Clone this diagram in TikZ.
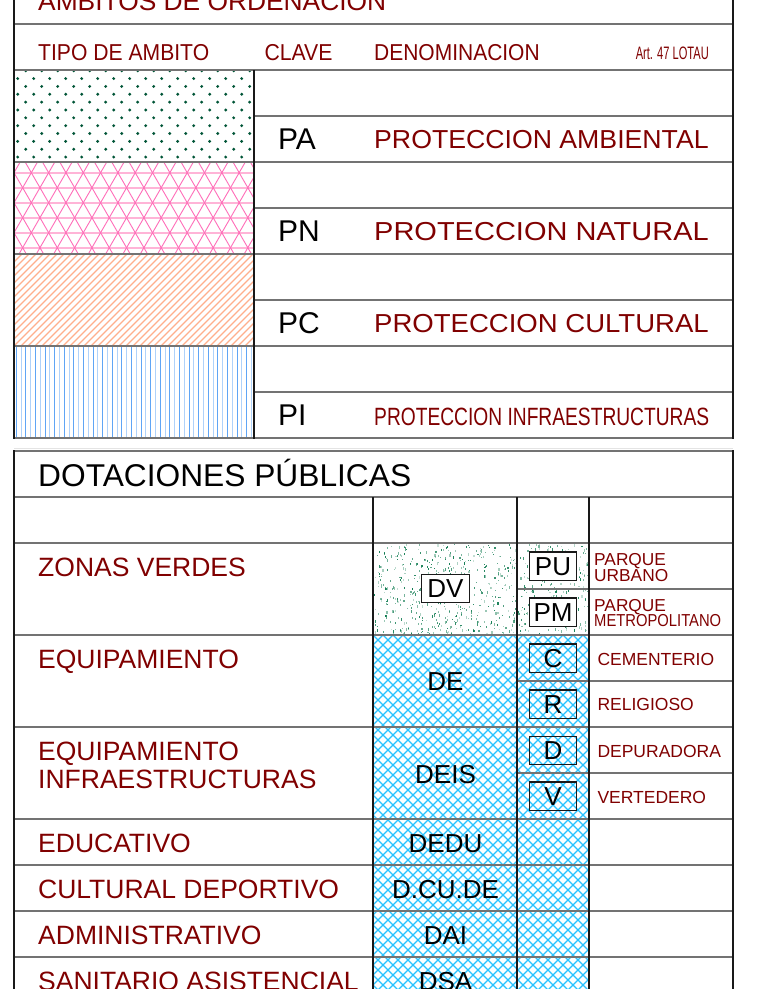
\documentclass[tikz,border=0pt]{standalone}
\usepackage{fontspec}
\usepackage{graphicx}
\setmainfont{Liberation Sans}
\newcommand\fsz[1]{\fontsize{#1pt}{#1pt}\selectfont}
\newcommand\fitw[3]{\resizebox{#1pt}{\height}{\fsz{#2}#3}}
\definecolor{dred}{RGB}{128,0,0}
\definecolor{hlinec}{RGB}{115,115,115}
\definecolor{vlinec}{RGB}{25,25,25}
\definecolor{dotgreen}{RGB}{0,85,55}
\definecolor{pinkd}{RGB}{255,110,185}
\definecolor{pinkl}{RGB}{255,180,215}
\definecolor{salmonc}{RGB}{255,175,140}
\definecolor{blued}{RGB}{95,165,245}
\definecolor{bluel}{RGB}{175,210,250}
\definecolor{cyanh}{RGB}{40,195,255}
\definecolor{speck}{RGB}{0,115,70}
\tikzset{
  hl/.style={draw=hlinec, line width=1.6pt},
  vl/.style={draw=vlinec, line width=1.4pt},
  lbl/.style={anchor=base west, inner sep=0pt, text=dred},
  blk/.style={anchor=base west, inner sep=0pt, text=black},
  code/.style={anchor=base, inner sep=0pt, text=black},
  codebox/.style={draw=vlinec, line width=1.2pt, minimum width=47.4pt, minimum height=28.7pt, inner sep=0pt, text=black},
}
\begin{document}
\begin{tikzpicture}[x=1pt,y=-1pt]
\useasboundingbox (0,0) rectangle (764,989);
\begin{scope}
\clip (0,0) rectangle (764,989);
\fill[white] (0,0) rectangle (764,989);

% ---------- PA dots
\begin{scope}
\clip (14,70) rectangle (254,162);
\foreach \j in {0,...,11} {
  \pgfmathsetmacro\yy{70.7+7.85*\j}
  \pgfmathsetmacro\xo{mod(\j,2)==0 ? 9.7 : 17.7}
  \foreach \k in {0,...,15} { \fill[dotgreen] (\xo+16*\k,\yy) circle (1.6pt); }
}
\end{scope}

% ---------- PN triangular lattice
\begin{scope}
\clip (14,162) rectangle (254,254);
\foreach \k in {-1,...,7} { \draw[pinkl, line width=1.8pt] (14,172.7+15*\k) -- (254,172.7+15*\k); }
\foreach \m in {-6,...,20} {
  \draw[pinkd, line width=0.9pt] (14+17.32*\m,142.7) -- ++(77.94,135);
  \draw[pinkd, line width=0.9pt] (14+17.32*\m,142.7) -- ++(-77.94,135);
}
\end{scope}

% ---------- PC diagonal hatch
\begin{scope}
\clip (14,254) rectangle (254,346);
\foreach \m in {-15,...,36} { \draw[salmonc, line width=1.1pt] (14+7*\m,346) -- ++(100,-100); }
\end{scope}

% ---------- PI vertical lines
\begin{scope}
\clip (14,346) rectangle (254,438);
\foreach \m in {0,...,49} {
  \ifodd\m \draw[bluel, line width=1.1pt] (16.3+4.8*\m,346) -- (16.3+4.8*\m,438);
  \else \draw[blued, line width=0.9pt] (16.3+4.8*\m,346) -- (16.3+4.8*\m,438); \fi
}
\end{scope}

% ---------- DV speckles
\begin{scope}
\clip (373,543) rectangle (589,635);
\pgfmathsetseed{12345}
\foreach \i in {1,...,800} {
  \pgfmathsetmacro\px{373+216*rnd}
  \pgfmathsetmacro\py{543+92*rnd}
  \pgfmathsetmacro\ll{0.8+2.2*rnd}
  \pgfmathsetmacro\op{0.2+0.7*rnd}
  \fill[speck, opacity=\op] (\px,\py) rectangle ++(1.1,\ll);
}
\end{scope}

% ---------- cyan cross hatch
\begin{scope}
\clip (373,635) rectangle (589,995);
\foreach \m in {-37,...,22} { \draw[cyanh, line width=1.1pt] (373+10*\m,635) -- ++(360,360); }
\foreach \m in {0,...,58} { \draw[cyanh, line width=1.1pt] (373+10*\m,635) -- ++(-360,360); }
\end{scope}

% ---------- top table lines
\foreach \y in {24,70,162,254,346,438} { \draw[hl] (14,\y) -- (733,\y); }
\foreach \y in {116,208,300,392} { \draw[hl] (254,\y) -- (733,\y); }
\draw[vl] (14,-2) -- (14,438.8);
\draw[vl] (733,-2) -- (733,438.8);
\draw[vl] (254,70) -- (254,438.8);
\draw[draw={rgb,255:red,228;green,228;blue,228}, line width=1.2pt] (14,448.6) -- (733,448.6);

% ---------- bottom table lines
\foreach \y in {451,497,543,635,727,819,865,911,957} { \draw[hl] (14,\y) -- (733,\y); }
\foreach \y in {589,681,773} { \draw[hl] (517,\y) -- (733,\y); }
\draw[vl] (14,450.2) -- (14,995);
\draw[vl] (733,450.2) -- (733,995);
\foreach \x in {373,517,589} { \draw[vl] (\x,497) -- (\x,995); }

% ---------- top table texts
\node[lbl] (ttitle) at (38,10.5) {\fitw{348}{26}{AMBITOS DE ORDENACION}};
\node[lbl] (htipo) at (38,60.7) {\fitw{171}{23}{TIPO DE AMBITO}};
\node[lbl] (hclave) at (264.3,60.7) {\fitw{68}{23}{CLAVE}};
\node[lbl] (hden) at (374,60.7) {\fitw{165.5}{23}{DENOMINACION}};
\node[lbl, anchor=base east] (hart) at (709,59.3) {\fitw{73}{18}{Art. 47 LOTAU}};

\node[blk] (kpa) at (278,149.9) {\fsz{30}PA};
\node[blk] (kpn) at (278,241.9) {\fsz{30}PN};
\node[blk] (kpc) at (278,333.9) {\fsz{30}PC};
\node[blk] (kpi) at (278,425.9) {\fsz{30}PI};
\node[lbl] (dpa) at (374,148.7) {\fitw{334.5}{26}{PROTECCION AMBIENTAL}};
\node[lbl] (dpn) at (374,240.7) {\fitw{334.5}{26}{PROTECCION NATURAL}};
\node[lbl] (dpc) at (374,332.9) {\fitw{334.5}{26}{PROTECCION CULTURAL}};
\node[lbl] (dpi) at (374,425.2) {\fitw{335}{25}{PROTECCION INFRAESTRUCTURAS}};

% ---------- bottom table texts
\node[blk] (btitle) at (38,486) {\fitw{373}{31.5}{DOTACIONES PÚBLICAS}};
\node[lbl] (zv) at (38,576) {\fsz{26.5}ZONAS VERDES};
\node[lbl] (eq) at (38,668) {\fsz{26.5}EQUIPAMIENTO};
\node[lbl] (eqi1) at (38,760) {\fsz{26.5}EQUIPAMIENTO};
\node[lbl] (eqi2) at (38,788) {\fsz{26.5}INFRAESTRUCTURAS};
\node[lbl] (edu) at (38,852) {\fsz{26.5}EDUCATIVO};
\node[lbl] (cul) at (38,898) {\fsz{26.5}CULTURAL DEPORTIVO};
\node[lbl] (adm) at (38,944) {\fsz{26.5}ADMINISTRATIVO};
\node[lbl] (san) at (38,990) {\fsz{26.5}SANITARIO ASISTENCIAL};

\node[codebox, fill=white, minimum width=47.6pt, minimum height=28pt] (cdv) at (445.5,588.7) {\fsz{26}DV};
\node[code] (cde) at (445.5,690) {\fsz{26}DE};
\node[code] (cdeis) at (445.5,783) {\fsz{26}DEIS};
\node[code] (cdedu) at (445.5,852) {\fsz{26}DEDU};
\node[code] (cdcu) at (445.5,898) {\fsz{26}D.CU.DE};
\node[code] (cdai) at (445.5,944) {\fsz{26}DAI};
\node[code] (cdsa) at (445.5,990) {\fsz{26}DSA};

\node[codebox, fill=white] (bpu) at (553,566.3) {\fsz{26}PU};
\node[codebox, fill=white] (bpm) at (553,612.3) {\fsz{26}PM};
\node[codebox] (bc) at (553,658.3) {\fsz{26}C};
\node[codebox] (br) at (553,704.3) {\fsz{26}R};
\node[codebox] (bd) at (553,750.5) {\fsz{26}D};
\node[codebox] (bv) at (553,796.3) {\fsz{26}V};

\node[lbl] (npu1) at (594,565) {\fsz{17.3}PARQUE};
\node[lbl] (npu2) at (594,581) {\fsz{17.3}URBANO};
\node[lbl] (npm1) at (594,611.7) {\fsz{17.3}PARQUE};
\node[lbl] (npm2) at (594,626.7) {\fitw{127}{17.3}{METROPOLITANO}};
\node[lbl] (nc) at (597.3,665) {\fsz{17.5}CEMENTERIO};
\node[lbl] (nr) at (597.3,710.5) {\fsz{17.5}RELIGIOSO};
\node[lbl] (nd) at (597.3,757) {\fsz{17.5}DEPURADORA};
\node[lbl] (nv) at (597.3,803) {\fsz{17.5}VERTEDERO};
\end{scope}
\end{tikzpicture}
\end{document}
